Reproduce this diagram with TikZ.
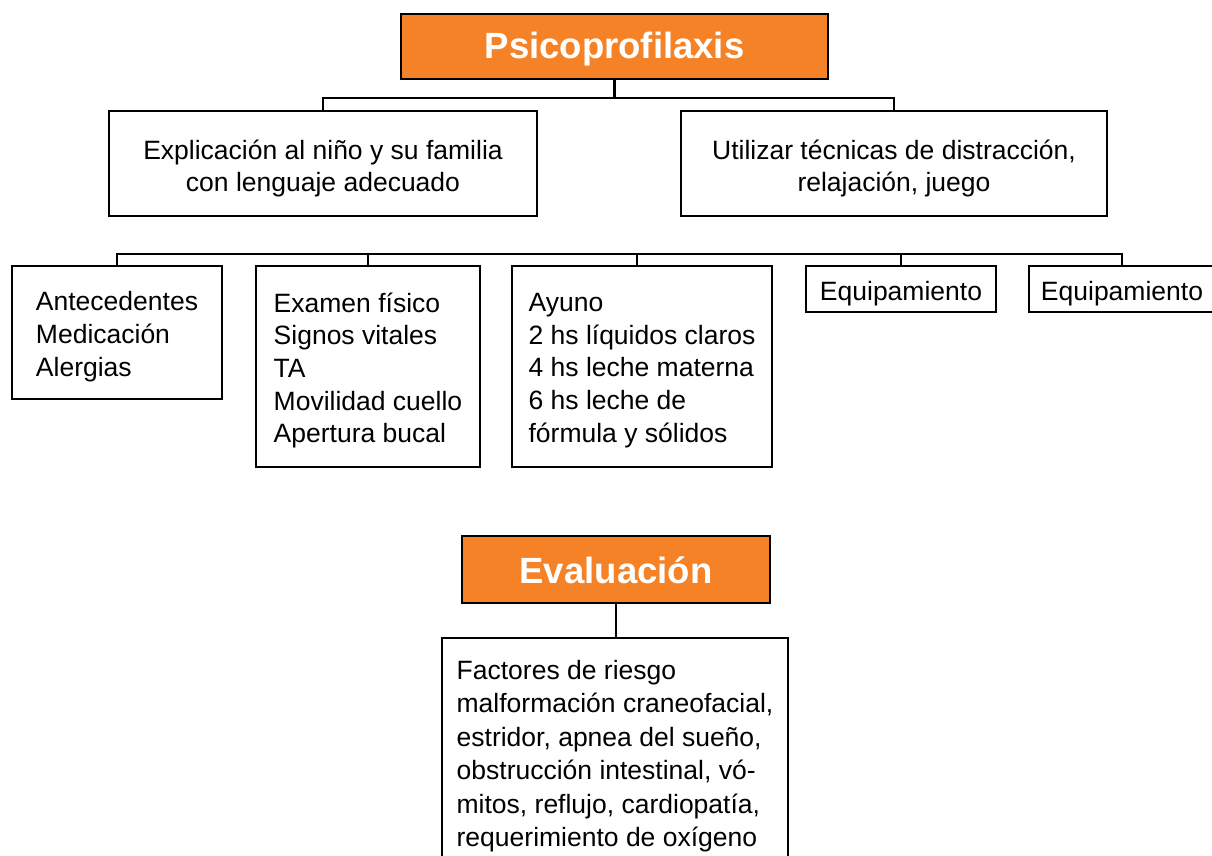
\documentclass[tikz,border=0pt]{standalone}
\usepackage{fontspec}
\setmainfont{Liberation Sans}
\definecolor{orangebox}{RGB}{245,130,38}
\begin{document}
\begin{tikzpicture}[x=1pt,y=-1pt,
  box/.style={draw=black, line width=2.4pt, fill=white, inner sep=0pt},
  titlebox/.style={draw=black, line width=2.4pt, fill=orangebox, inner sep=0pt},
  txt/.style={inner sep=0pt, font=\fontsize{26.5}{32.7}\selectfont, align=left},
  ctxt/.style={txt, align=center},
  ttxt/.style={inner sep=0pt, text=white, font=\fontsize{36.5}{40}\selectfont\bfseries},
  link/.style={line width=2.4pt}]
\useasboundingbox (0,0) rectangle (1212,856);
\clip (0,0) rectangle (1212,856);

% top tier
\node[titlebox, minimum width=427pt, minimum height=65pt] (psico) at (614.5,46.5) {};
\node[ttxt] (psicoT) at ([yshift=-3pt]psico.center) {Psicoprofilaxis};
\node[box, minimum width=428pt, minimum height=105pt] (expl) at (323,163.5) {};
\node[ctxt] (explT) at ([yshift=-5pt]expl.center) {Explicación al niño y su familia\\con lenguaje adecuado};
\node[box, minimum width=426pt, minimum height=105pt] (util) at (894,163.5) {};
\node[ctxt] (utilT) at ([yshift=-5pt]util.center) {Utilizar técnicas de distracción,\\relajación, juego};

% lower tier
\node[box, minimum width=210pt, minimum height=133pt] (ante) at (117,332.5) {};
\node[txt] (anteT) at ([yshift=-4pt]ante.center) {Antecedentes\\Medicación\\Alergias};
\node[box, minimum width=224pt, minimum height=201pt] (exam) at (368,366.5) {};
\node[txt] (examT) at ([yshift=-4pt]exam.center) {Examen físico\\Signos vitales\\TA\\Movilidad cuello\\Apertura bucal};
\node[box, minimum width=260pt, minimum height=201pt] (ayuno) at (642,366.5) {};
\node[txt] (ayunoT) at ([yshift=-4pt]ayuno.center) {Ayuno\\2 hs líquidos claros\\4 hs leche materna\\6 hs leche de\\fórmula y sólidos};
\node[box, minimum width=190pt, minimum height=46pt] (equipa) at (901,289) {};
\node[ctxt] (equipaT) at ([yshift=-5pt]equipa.center) {Equipamiento};
\node[box, minimum width=186pt, minimum height=46pt] (equipb) at (1122,289) {};
\node[ctxt] (equipbT) at ([yshift=-5pt]equipb.center) {Equipamiento};

% evaluation
\node[titlebox, minimum width=308pt, minimum height=67pt] (eval) at (616,569.5) {};
\node[ttxt] (evalT) at ([yshift=-1pt]eval.center) {Evaluación};
\node[box, minimum width=346pt, minimum height=228pt] (fact) at (615,752) {};
\node[txt, font=\fontsize{26.5}{33.5}\selectfont] (factT) at ([yshift=-4pt]fact.center)
  {Factores de riesgo\\malformación craneofacial,\\estridor, apnea del sueño,\\obstrucción intestinal, vó-\\mitos, reflujo, cardiopatía,\\requerimiento de oxígeno};

% connectors top
\coordinate (topbar) at (0,98);
\draw[link] (psico.south) -- (psico.south |- topbar);
\draw[link] (expl.north) -- (expl.north |- topbar) -- (util.north |- topbar) -- (util.north);

% connectors lower
\coordinate (lowbar) at (0,254);
\draw[link] (ante.north) -- (ante.north |- lowbar) -- (equipb.north |- lowbar) -- (equipb.north);
\draw[link] (exam.north) -- (exam.north |- lowbar);
\draw[link] ([xshift=-5pt]ayuno.north) -- ([xshift=-5pt]ayuno.north |- lowbar);
\draw[link] (equipa.north) -- (equipa.north |- lowbar);

% evaluation connector
\draw[link] (eval.south) -- (eval.south |- fact.north);
\end{tikzpicture}
\end{document}
